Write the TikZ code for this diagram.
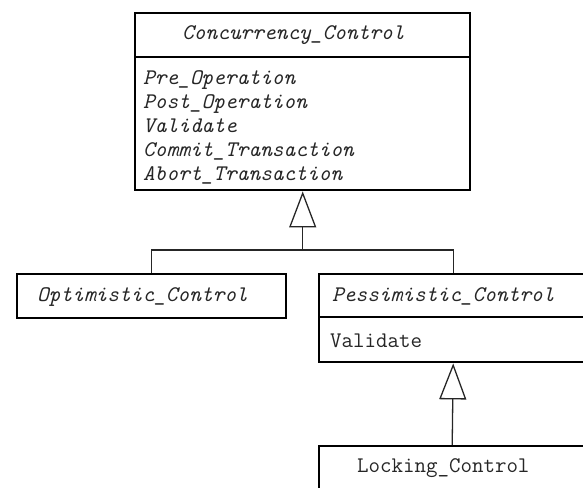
\documentclass[tikz,border=0pt]{standalone}
\usepackage{fontspec}
\usetikzlibrary{arrows.meta}
\begin{document}
\begin{tikzpicture}[x=1pt,y=-1pt,
  box/.style={draw=black,line width=2.4pt,rectangle,inner sep=0pt,anchor=north west},
  lbl/.style={anchor=base west,inner sep=0pt,text=black!85,font=\fontsize{22.3}{24}\selectfont\ttfamily},
  ilbl/.style={lbl,font=\fontsize{22.3}{24}\selectfont\ttfamily\itshape},
  conn/.style={draw=black!85,line width=1.3pt},
  inh/.style={conn,-{Triangle[open,length=36pt,width=27pt,line width=1.3pt]}}]
\useasboundingbox (0,0) rectangle (583,487);
% Concurrency_Control
\node[box,minimum width=335pt,minimum height=44pt] (cchead) at (134,12) {};
\node[box,minimum width=335pt,minimum height=133pt] (ccops) at (134,56) {};
\node[ilbl] (cctitle) at (182,40) {Concurrency\_Control};
\node[ilbl,align=left,anchor=north west] (ccattr) at (143,70) {Pre\_Operation\\Post\_Operation\\Validate\\Commit\_Transaction\\Abort\_Transaction};
% Optimistic_Control
\node[box,minimum width=269pt,minimum height=44pt] (opt) at (16,273) {};
\node[ilbl] (opttitle) at (37,301) {Optimistic\_Control};
% Pessimistic_Control
\node[box,minimum width=268pt,minimum height=43pt] (pes) at (318,273) {};
\node[box,minimum width=268pt,minimum height=45pt] (pesops) at (318,316) {};
\node[ilbl] (pestitle) at (332,301) {Pessimistic\_Control};
\node[lbl] (pesattr) at (330,347) {Validate};
% Locking_Control
\node[box,minimum width=266pt,minimum height=60pt] (lock) at (318,445) {};
\node[lbl] (locktitle) at (357,472) {Locking\_Control};
% connectors
\coordinate (j) at (ccops.south |- 0,250);
\draw[conn] (opt.north) |- (j) -| (pes.north);
\draw[inh] (j) -- (ccops.south);
\draw[inh] (lock.north) -- (pesops.south);
\end{tikzpicture}
\end{document}
